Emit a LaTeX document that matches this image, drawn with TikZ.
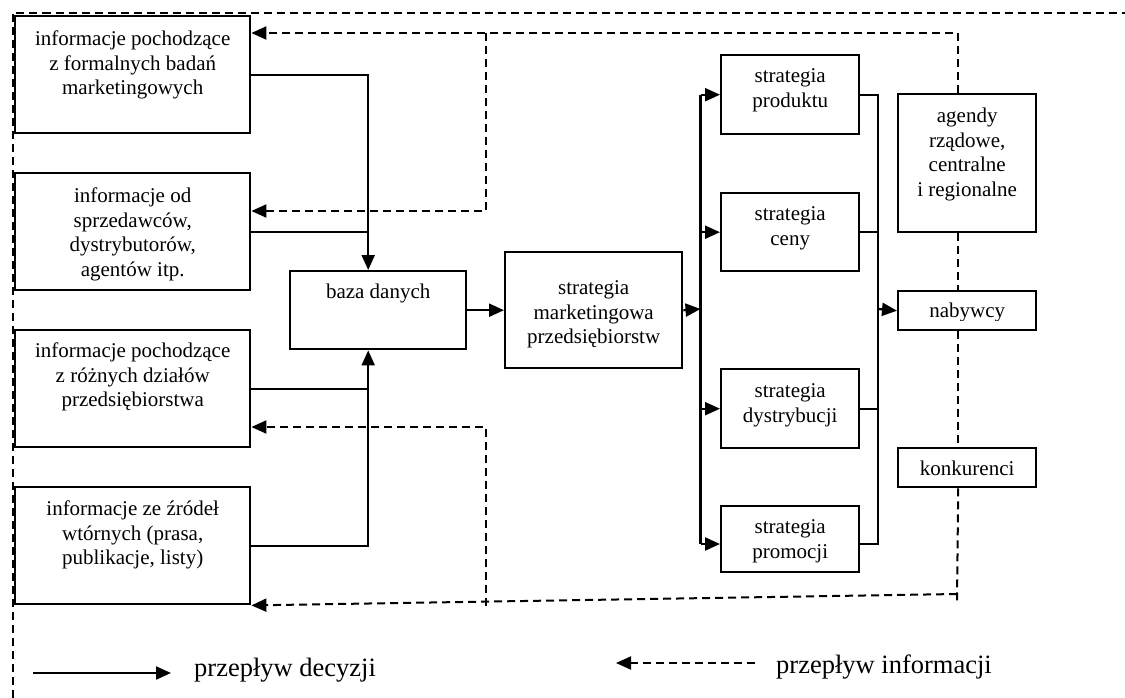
\documentclass[tikz,border=0pt]{standalone}
\usepackage{fontspec}
\setmainfont{Liberation Serif}
\usetikzlibrary{arrows.meta}
\newcommand\tb[4]{\parbox[c][#2pt][t]{#1pt}{\vspace*{#3pt}\centering\strut #4}}
\tikzset{
  box/.style={draw, line width=2.4pt, inner sep=0pt, anchor=north west, font=\fontsize{21}{24.5}\selectfont},
  ln/.style={draw, line width=2.2pt},
  dec/.style={ln, -{Triangle[length=15pt,width=13pt]}},
  inf/.style={draw, line width=2pt, dash pattern=on 8pt off 5pt, -{Triangle[length=15pt,width=13pt]}},
  infl/.style={draw, line width=2pt, dash pattern=on 8pt off 5pt},
  legend/.style={inner sep=0pt, anchor=west, font=\fontsize{26.5}{30}\selectfont}
}
\begin{document}
\begin{tikzpicture}[x=1pt,y=1pt]
\useasboundingbox (0,0) rectangle (1125,-698);
% outer frame
\draw[infl] (12.5,-698) -- (12.5,-13) -- (1125,-13);
% left boxes
\node[box] (b1) at (14,-15) {\tb{235}{117}{12.5}{informacje pochodzące\\z formalnych badań\\marketingowych}};
\node[box] (b2) at (14,-172) {\tb{235}{117}{12.5}{informacje od\\sprzedawców,\\dystrybutorów,\\agentów itp.}};
\node[box] (b3) at (14,-329) {\tb{235}{117}{10.5}{informacje pochodzące\\z różnych działów\\przedsiębiorstwa}};
\node[box] (b4) at (14,-486) {\tb{235}{117}{11.5}{informacje ze źródeł\\wtórnych (prasa,\\publikacje, listy)}};
% middle
\node[box] (baza) at (289,-270) {\tb{176}{78}{10.5}{baza danych}};
\node[box] (mk) at (504,-251) {\tb{177}{116}{25.5}{strategia\\marketingowa\\przedsiębiorstw}};
% strategies
\node[box] (sp) at (720,-54) {\tb{138}{79}{10.5}{strategia\\produktu}};
\node[box] (sc) at (720,-192) {\tb{138}{78}{10.5}{strategia\\ceny}};
\node[box] (sd) at (720,-368) {\tb{138}{79}{11.5}{strategia\\dystrybucji}};
\node[box] (sm) at (720,-505) {\tb{138}{66}{10.5}{strategia\\promocji}};
% right
\node[box] (ag) at (897,-93) {\tb{138}{138}{11.5}{agendy\\rządowe,\\centralne\\i regionalne}};
\node[box] (nab) at (897,-290) {\tb{138}{39}{9.5}{}};
\begin{scope}
\clip (897,-290) rectangle (1035,-320);
\node[box, draw=none] (nabt) at (897,-290) {\tb{138}{39}{9.5}{nabywcy}};
\end{scope}
\node[box] (kon) at (897,-447) {\tb{138}{39}{10.5}{konkurenci}};
% junction coordinates
\coordinate (jx) at (367,0);
\coordinate (tl) at (700.5,-309);
\coordinate (tr) at (878,-309);
\coordinate (pin) at (700.5,-544);
\coordinate (pout) at (878,-544);
% decisions: left to database
\draw[dec] (b1.east) -| ([xshift=-10pt]baza.north);
\draw[ln] (b2.east) -- (b2.east -| jx);
\draw[ln] (b3.east) -- (b3.east -| jx);
\draw[dec] (b4.east) -| ([xshift=-10pt]baza.south);
\draw[dec] (baza.east) -- (mk.west);
\draw[dec] (mk.east) -- (tl);
% left trunk
\draw[ln] (tl |- sp.west) -- (pin);
\draw[dec] (tl |- sp.west) -- (sp.west);
\draw[dec] (tl |- sc.west) -- (sc.west);
\draw[dec] (tl |- sd.west) -- (sd.west);
\draw[dec] (pin) -- (pin -| sm.west);
% right trunk
\draw[ln] (sp.east) -- (sp.east -| tr) -- (pout) -- (pout -| sm.east);
\draw[ln] (sc.east) -- (sc.east -| tr);
\draw[ln] (sd.east) -- (sd.east -| tr);
\draw[dec] (tr) -- (nab.west);
% information flows
\coordinate (t1) at (486,-33);
\coordinate (t3) at (486,-606);
\coordinate (c1) at (957,-603);
\coordinate (c2) at (957,-594);
\draw[inf] ([xshift=-9pt]ag.north) |- ([yshift=-18pt]b1.north east);
\draw[inf] (t1) |- ([yshift=-39pt]b2.north east);
\draw[infl] ([xshift=-9pt]ag.south) -- ([xshift=-9pt]nab.north);
\draw[infl] ([xshift=-9pt]nab.south) -- ([xshift=-9pt]kon.north);
\draw[infl] ([xshift=-9pt]kon.south) -- (c1);
\draw[inf] (c2) -- (b4.south east);
\draw[inf] (t3) |- ([yshift=-98pt]b3.north east);
% legend
\coordinate (la) at (33,-673);
\coordinate (lb) at (171,-673);
\draw[dec] (la) -- (lb);
\node[legend] (l1) at (194,-670) {przepływ decyzji};
\coordinate (lc) at (755,-663);
\coordinate (ld) at (616,-663);
\draw[inf] (lc) -- (ld);
\node[legend] (l2) at (776,-667) {przepływ informacji};
\end{tikzpicture}
\end{document}
